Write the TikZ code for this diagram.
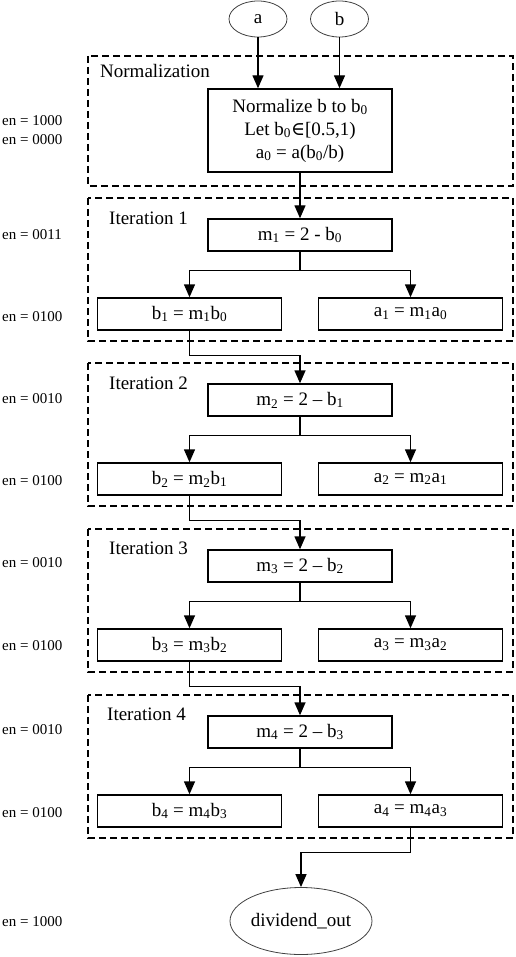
\documentclass[tikz,border=0pt]{standalone}
\usepackage{fontspec}
\setmainfont{Liberation Serif}
\newfontfamily\symfont{DejaVu Serif}
\usetikzlibrary{arrows.meta,shapes.geometric,calc}
\newcommand{\sub}[1]{\textsubscript{#1}}
\begin{document}
\begin{tikzpicture}[x=1pt,y=-1pt,
  mainfont/.style={font=\fontsize{19}{23}\selectfont},
  box/.style={draw,line width=1.4pt,minimum height=32pt,minimum width=184pt,inner sep=0pt,mainfont},
  oval/.style={draw=black!75,line width=0.8pt,ellipse,inner sep=0pt,mainfont},
  arr/.style={-{Triangle[length=13pt,width=11pt]},line width=1.4pt},
  grp/.style={draw,dash pattern=on 7pt off 4pt,line width=1.4pt},
  enlab/.style={anchor=west,font=\fontsize{15}{18}\selectfont,inner sep=0pt},
  grplab/.style={anchor=west,mainfont,inner sep=0pt}]
\useasboundingbox (0,0) rectangle (515,957);

% inputs
\node[oval,minimum width=58pt,minimum height=36pt] (ea) at (258,19) {a};
\node[oval,minimum width=58pt,minimum height=36pt] (eb) at (339.5,19) {b};

% Normalization
\draw[grp] (88,56) rectangle (513,186);
\node[grplab] (lnorm) at (100,71) {Normalization};
\node[box,minimum height=83pt,align=center] (norm) at (300,130.5)
  {Normalize b to b\sub{0}\\Let b\sub{0}{\symfont ∈}[0.5,1)\\a\sub{0} = a(b\sub{0}/b)};
\node[enlab] (en0a) at (2,121) {en = 1000};
\node[enlab] (en0b) at (2,140) {en = 0000};

% Iteration 1 (T=198)
\draw[grp] (88,198) rectangle (513,341);
\node[grplab] (l1) at (109,218) {Iteration 1};
\node[box] (m1) at (300,235) {m\sub{1} = 2 - b\sub{0}};
\node[box] (b1) at (189.5,314) {b\sub{1} = m\sub{1}b\sub{0}};
\node[box] (a1) at (410.5,314) {a\sub{1} = m\sub{1}a\sub{0}};
\node[enlab] (en1m) at (2,235) {en = 0011};
\node[enlab] (en1b) at (2,317) {en = 0100};

% Iteration 2 (T=363)
\draw[grp] (88,363) rectangle (513,506);
\node[grplab] (l2) at (109,383) {Iteration 2};
\node[box] (m2) at (300,400) {m\sub{2} = 2 – b\sub{1}};
\node[box] (b2) at (189.5,479) {b\sub{2} = m\sub{2}b\sub{1}};
\node[box] (a2) at (410.5,479) {a\sub{2} = m\sub{2}a\sub{1}};
\node[enlab] (en2m) at (2,399) {en = 0010};
\node[enlab] (en2b) at (2,481) {en = 0100};

% Iteration 3 (T=529)
\draw[grp] (88,529) rectangle (513,672);
\node[grplab] (l3) at (109,548) {Iteration 3};
\node[box] (m3) at (300,566) {m\sub{3} = 2 – b\sub{2}};
\node[box] (b3) at (189.5,645) {b\sub{3} = m\sub{3}b\sub{2}};
\node[box] (a3) at (410.5,645) {a\sub{3} = m\sub{3}a\sub{2}};
\node[enlab] (en3m) at (2,563) {en = 0010};
\node[enlab] (en3b) at (2,646) {en = 0100};

% Iteration 4 (T=695)
\draw[grp] (88,695) rectangle (513,838);
\node[grplab] (l4) at (107,714) {Iteration 4};
\node[box] (m4) at (300,732) {m\sub{4} = 2 – b\sub{3}};
\node[box] (b4) at (189.5,811) {b\sub{4} = m\sub{4}b\sub{3}};
\node[box] (a4) at (410.5,811) {a\sub{4} = m\sub{4}a\sub{3}};
\node[enlab] (en4m) at (2,730) {en = 0010};
\node[enlab] (en4b) at (2,813) {en = 0100};

% output
\node[oval,minimum width=142pt,minimum height=67pt] (out) at (301,921) {dividend\_out};
\node[enlab] (en5) at (2,922) {en = 1000};

% connectors
\draw[arr] (ea.south) -- (ea.south |- norm.north);
\draw[arr] (eb.south) -- (eb.south |- norm.north);
\draw[arr] (norm.south) -- (m1.north);
\foreach \k in {1,2,3,4}{
  \draw[arr] (m\k.south) -- ++(0,19) -| (b\k.north);
  \draw[arr] (m\k.south) -- ++(0,19) -| (a\k.north);
}
\draw[arr] (b1.south) -- ++(0,25) -| (m2.north);
\draw[arr] (b2.south) -- ++(0,25) -| (m3.north);
\draw[arr] (b3.south) -- ++(0,25) -| (m4.north);
\draw[arr] (a4.south) -- ++(0,25) -| (out.north);
\end{tikzpicture}
\end{document}
